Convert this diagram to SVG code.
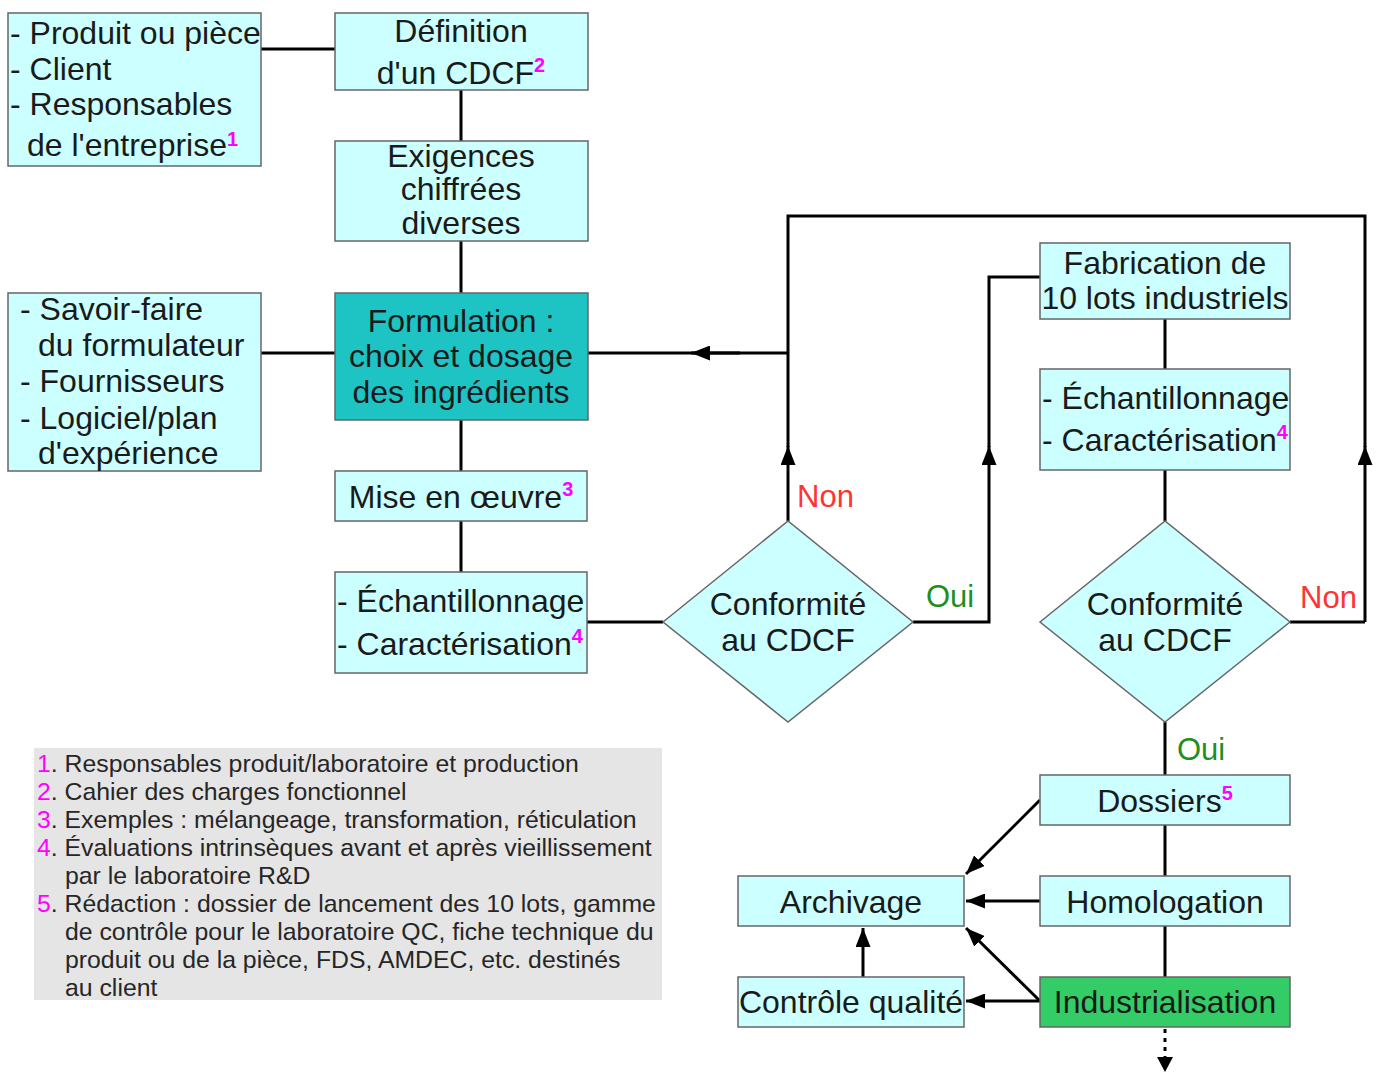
<svg xmlns="http://www.w3.org/2000/svg" width="1378" height="1072" viewBox="0 0 1378 1072">
  <defs>
    <marker id="arrow" markerUnits="userSpaceOnUse" markerWidth="19" markerHeight="15" refX="19" refY="7.5" orient="auto">
      <path d="M0,0 L19,7.5 L0,15 Z" fill="#000"/>
    </marker>
  </defs>
  <style>
    .box { fill: #ccffff; stroke: #666; stroke-width: 1.5; }
    .teal { fill: #1ec3c3; }
    .green { fill: #33cc66; }
    .t { font-family: "Liberation Sans", Arial, sans-serif; font-size: 32px; fill: #1a1a1a; }
    .c { text-anchor: middle; }
    .sup { font-family: "Liberation Sans", Arial, sans-serif; font-size: 20px; font-weight: bold; fill: #ff00ff; }
    .non { font-family: "Liberation Sans", Arial, sans-serif; font-size: 31px; fill: #ff3333; }
    .oui { font-family: "Liberation Sans", Arial, sans-serif; font-size: 31px; fill: #1f8f1f; }
    .leg { font-family: "Liberation Sans", Arial, sans-serif; font-size: 24.8px; fill: #262626; }
    .num { fill: #ff00ff; }
    .wire { fill: none; stroke: #000; stroke-width: 3; }
    .arr { fill: none; stroke: #000; stroke-width: 3; marker-end: url(#arrow); }
  </style>
  <rect width="1378" height="1072" fill="#ffffff"/>

  <!-- connectors -->
  <g id="connectors">
    <path class="wire" d="M261,49 H335"/>
    <path class="wire" d="M461,90 V141"/>
    <path class="wire" d="M461,241 V293"/>
    <path class="wire" d="M261,353 H335"/>
    <path class="wire" d="M461,420 V471"/>
    <path class="wire" d="M461,521 V572"/>
    <path class="wire" d="M587,622 H663"/>
    <!-- "Non" loops back to the formulation step -->
    <path class="wire" d="M788,447 V216 H1365 V447"/>
    <path class="arr" d="M788,521 V446"/>
    <path class="arr" d="M1365,622 V446"/>
    <path class="wire" d="M1290,622 H1365"/>
    <path class="wire" d="M788,353 H692"/>
    <path class="arr" d="M740,353 H691"/>
    <path class="wire" d="M692,353 H588"/>
    <!-- "Oui" leads to industrial batches -->
    <path class="wire" d="M913,622 H989 V521"/>
    <path class="arr" d="M989,521 V446"/>
    <path class="wire" d="M989,447 V277 H1040"/>
    <path class="wire" d="M1165,319 V369"/>
    <path class="wire" d="M1165,470 V521"/>
    <path class="wire" d="M1165,722 V775"/>
    <path class="wire" d="M1165,825 V876"/>
    <path class="wire" d="M1165,926 V977"/>
    <path class="wire" d="M1165,1029 V1057" stroke-width="4" stroke-dasharray="4,5"/>
    <path d="M1157,1057 L1173,1057 L1165,1072 Z" fill="#000"/>
    <!-- archiving and quality control -->
    <path class="arr" d="M1040,800 L966,874"/>
    <path class="arr" d="M1040,901 H966"/>
    <path class="arr" d="M1040,1001 L966,928"/>
    <path class="arr" d="M1040,1001 H966"/>
    <path class="arr" d="M863,977 V928"/>
  </g>

  <g id="inputs-cdcf">
    <rect class="box" x="8" y="13" width="253" height="153"/>
    <text class="t" x="10" y="44">- Produit ou pièce</text>
    <text class="t" x="10" y="80">- Client</text>
    <text class="t" x="10" y="115">- Responsables</text>
    <text class="t" x="27" y="156">de l'entreprise<tspan class="sup" dy="-10">1</tspan></text>
  </g>

  <g id="definition-cdcf">
    <rect class="box" x="335" y="13" width="253" height="77"/>
    <text class="t c" x="461" y="42">Définition</text>
    <text class="t c" x="461" y="84">d'un CDCF<tspan class="sup" dy="-12">2</tspan></text>
  </g>

  <g id="exigences">
    <rect class="box" x="335" y="141" width="253" height="100"/>
    <text class="t c" x="461" y="167">Exigences</text>
    <text class="t c" x="461" y="200">chiffrées</text>
    <text class="t c" x="461" y="234">diverses</text>
  </g>

  <g id="inputs-formulation">
    <rect class="box" x="8" y="293" width="253" height="178"/>
    <text class="t" x="20" y="320">- Savoir-faire</text>
    <text class="t" x="38" y="356">du formulateur</text>
    <text class="t" x="20" y="392">- Fournisseurs</text>
    <text class="t" x="20" y="429">- Logiciel/plan</text>
    <text class="t" x="38" y="464">d'expérience</text>
  </g>

  <g id="formulation">
    <rect class="box teal" x="335" y="293" width="253" height="127"/>
    <text class="t c" x="461" y="332">Formulation :</text>
    <text class="t c" x="461" y="367">choix et dosage</text>
    <text class="t c" x="461" y="403">des ingrédients</text>
  </g>

  <g id="mise-en-oeuvre">
    <rect class="box" x="335" y="471" width="252" height="50"/>
    <text class="t c" x="461" y="508">Mise en œuvre<tspan class="sup" dy="-12">3</tspan></text>
  </g>

  <g id="echantillonnage-labo">
    <rect class="box" x="335" y="572" width="252" height="101"/>
    <text class="t" x="337" y="612">- Échantillonnage</text>
    <text class="t" x="337" y="655">- Caractérisation<tspan class="sup" dy="-12">4</tspan></text>
  </g>

  <g id="conformite-labo">
    <polygon class="box" points="663,622 788,521 913,622 788,722"/>
    <text class="t c" x="788" y="615">Conformité</text>
    <text class="t c" x="788" y="651">au CDCF</text>
  </g>

  <g id="fabrication">
    <rect class="box" x="1040" y="243" width="250" height="76"/>
    <text class="t c" x="1165" y="274">Fabrication de</text>
    <text class="t c" x="1165" y="309">10 lots industriels</text>
  </g>

  <g id="echantillonnage-lots">
    <rect class="box" x="1040" y="369" width="250" height="101"/>
    <text class="t" x="1042" y="409">- Échantillonnage</text>
    <text class="t" x="1042" y="451">- Caractérisation<tspan class="sup" dy="-12">4</tspan></text>
  </g>

  <g id="conformite-lots">
    <polygon class="box" points="1040,622 1165,521 1290,622 1165,722"/>
    <text class="t c" x="1165" y="615">Conformité</text>
    <text class="t c" x="1165" y="651">au CDCF</text>
  </g>

  <g id="dossiers">
    <rect class="box" x="1040" y="775" width="250" height="50"/>
    <text class="t c" x="1165" y="812">Dossiers<tspan class="sup" dy="-12">5</tspan></text>
  </g>

  <g id="homologation">
    <rect class="box" x="1040" y="876" width="250" height="50"/>
    <text class="t c" x="1165" y="913">Homologation</text>
  </g>

  <g id="industrialisation">
    <rect class="box green" x="1040" y="977" width="250" height="50"/>
    <text class="t c" x="1165" y="1013">Industrialisation</text>
  </g>

  <g id="archivage">
    <rect class="box" x="738" y="876" width="226" height="50"/>
    <text class="t c" x="851" y="913">Archivage</text>
  </g>

  <g id="controle-qualite">
    <rect class="box" x="738" y="977" width="226" height="50"/>
    <text class="t c" x="851" y="1013">Contrôle qualité</text>
  </g>

  <g id="labels">
    <text class="non" x="797" y="507">Non</text>
    <text class="oui" x="926" y="607">Oui</text>
    <text class="non" x="1300" y="608">Non</text>
    <text class="oui" x="1177" y="760">Oui</text>
  </g>

  <g id="notes">
    <rect x="34" y="748" width="628" height="252" fill="#e5e5e5"/>
    <text class="leg" x="37" y="772"><tspan class="num">1</tspan>. Responsables produit/laboratoire et production</text>
    <text class="leg" x="37" y="800"><tspan class="num">2</tspan>. Cahier des charges fonctionnel</text>
    <text class="leg" x="37" y="828"><tspan class="num">3</tspan>. Exemples : mélangeage, transformation, réticulation</text>
    <text class="leg" x="37" y="856"><tspan class="num">4</tspan>. Évaluations intrinsèques avant et après vieillissement</text>
    <text class="leg" x="65" y="884">par le laboratoire R&amp;D</text>
    <text class="leg" x="37" y="912"><tspan class="num">5</tspan>. Rédaction : dossier de lancement des 10 lots, gamme</text>
    <text class="leg" x="65" y="940">de contrôle pour le laboratoire QC, fiche technique du</text>
    <text class="leg" x="65" y="968">produit ou de la pièce, FDS, AMDEC, etc. destinés</text>
    <text class="leg" x="65" y="996">au client</text>
  </g>
</svg>
